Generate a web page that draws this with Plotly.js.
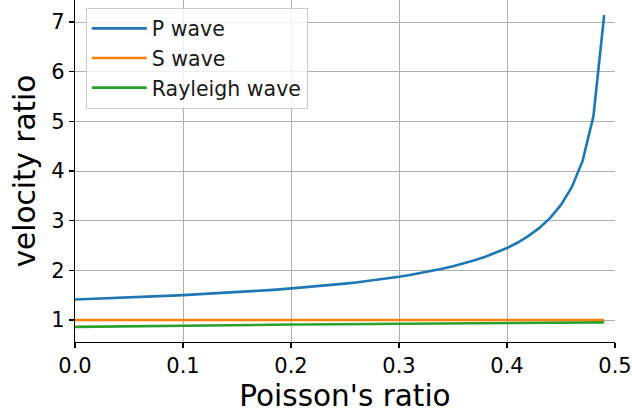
<!DOCTYPE html>
<html>
<head>
<meta charset="utf-8">
<script src="https://cdn.plot.ly/plotly-3.0.1.min.js"></script>
<style>html,body{margin:0;padding:0;background:#fff;}#chart{width:632px;height:418px;}</style>
</head>
<body>
<div id="chart"></div>
<script>
const poisson = [0.00,0.01,0.02,0.03,0.04,0.05,0.06,0.07,0.08,0.09,
  0.10,0.11,0.12,0.13,0.14,0.15,0.16,0.17,0.18,0.19,
  0.20,0.21,0.22,0.23,0.24,0.25,0.26,0.27,0.28,0.29,
  0.30,0.31,0.32,0.33,0.34,0.35,0.36,0.37,0.38,0.39,
  0.40,0.41,0.42,0.43,0.44,0.45,0.46,0.47,0.48,0.49];
const pWave = [1.414,1.421,1.429,1.437,1.445,1.453,1.462,1.471,1.480,1.490,
  1.500,1.511,1.522,1.533,1.546,1.558,1.572,1.586,1.601,1.616,
  1.633,1.651,1.669,1.689,1.710,1.732,1.756,1.782,1.809,1.839,
  1.871,1.906,1.944,1.985,2.031,2.082,2.138,2.201,2.273,2.355,
  2.450,2.560,2.693,2.854,3.055,3.317,3.674,4.203,5.099,7.141];
const sWave = [1,1,1,1,1,1,1,1,1,1,1,1,1,1,1,1,1,1,1,1,1,1,1,1,1,
  1,1,1,1,1,1,1,1,1,1,1,1,1,1,1,1,1,1,1,1,1,1,1,1,1];
const rayleighWave = [0.862,0.865,0.868,0.870,0.873,0.875,0.878,0.880,0.883,0.885,
  0.887,0.890,0.892,0.894,0.896,0.898,0.900,0.902,0.904,0.906,
  0.908,0.910,0.912,0.914,0.916,0.918,0.919,0.921,0.923,0.925,
  0.926,0.928,0.929,0.931,0.933,0.934,0.936,0.937,0.939,0.940,
  0.941,0.943,0.944,0.946,0.947,0.948,0.950,0.951,0.952,0.953];
const seriesNames = ['P wave','S wave','Rayleigh wave'];
const xTicks = [0,0.1,0.2,0.3,0.4,0.5];
const xTickLabels = ['0.0','0.1','0.2','0.3','0.4','0.5'];
const yTicks = [1,2,3,4,5,6,7];

const colors = ['#1f77b4','#ff7f0e','#2ca02c'];
const ys = [pWave, sWave, rayleighWave];
const traces = ys.map((y,i)=>({
  x: poisson, y: y, type:'scatter', mode:'lines', name: seriesNames[i],
  legendgroup: 'g'+i,
  line:{color:colors[i], width:2.6}
}));

const font = 'DejaVu Sans, sans-serif';
const layout = {
  width:632, height:418,
  margin:{l:75, r:17, t:0, b:76, pad:0},
  paper_bgcolor:'#fff', plot_bgcolor:'#fff',
  font:{family:font, color:'#000'},
  showlegend:true,
  legend:{x:0.02, y:0.978, xanchor:'left', yanchor:'top',
    bgcolor:'rgba(255,255,255,0.8)', bordercolor:'#cccccc', borderwidth:1,
    font:{family:font, size:20.5, color:'#1a1a1a'}, traceorder:'grouped', tracegroupgap:0,
    itemwidth:55},
  xaxis:{range:[0,0.5], tickvals:xTicks, ticktext:xTickLabels,
    showgrid:true, gridcolor:'#b0b0b0', gridwidth:1,
    zeroline:false, showline:true, linecolor:'#000', linewidth:1.2,
    ticks:'outside', ticklen:5, tickcolor:'#000', tickwidth:1.2,
    tickfont:{family:font, size:21, color:'#000'},
    title:{text:"Poisson's ratio", font:{family:font, size:29.5, color:'#000'}, standoff:8}},
  yaxis:{range:[0.557,7.443], tickvals:yTicks,
    showgrid:true, gridcolor:'#b0b0b0', gridwidth:1,
    zeroline:false, showline:true, linecolor:'#000', linewidth:1.2,
    ticks:'outside', ticklen:5, tickcolor:'#000', tickwidth:1.2,
    tickfont:{family:font, size:21, color:'#000'},
    title:{text:'velocity ratio', font:{family:font, size:29.5, color:'#000'}, standoff:6}}
};
Plotly.newPlot('chart', traces, layout, {displayModeBar:false, staticPlot:true});
</script>
</body>
</html>
